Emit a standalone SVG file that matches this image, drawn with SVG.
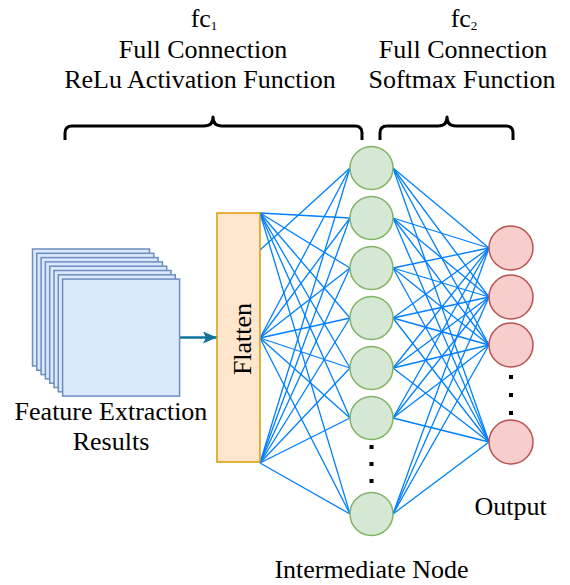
<svg xmlns="http://www.w3.org/2000/svg" width="570" height="585" viewBox="0 0 570 585">
<defs>
<style>
.t{font-family:"Liberation Serif","Times New Roman",serif;font-size:26px;fill:#000;text-anchor:middle}
.sub{font-size:13px}
.fm{fill:#dae8fc;stroke:#6c8ebf;stroke-width:1.5}
.g{fill:#d5e8d4;stroke:#82b366;stroke-width:1.5}
.r{fill:#f8cecc;stroke:#b85450;stroke-width:1.5}
.e line{stroke:#007fff;stroke-width:1.3}
.br{fill:none;stroke:#000;stroke-width:3;stroke-linejoin:round}
.dot{fill:#000}
</style>
<marker id="ah" markerWidth="14" markerHeight="12" refX="14" refY="6" orient="auto" markerUnits="userSpaceOnUse" viewBox="0 0 14 12">
<path d="M0,0 L14,6 L0,12 L3,6 Z" fill="#10739e"/>
</marker>
</defs>
<rect width="570" height="585" fill="#fff"/>

<g id="labels-top">
<text class="t" x="204" y="27">fc<tspan class="sub" dy="3">1</tspan></text>
<text class="t" x="203" y="58">Full Connection</text>
<text class="t" x="200" y="88">ReLu Activation Function</text>
<text class="t" x="464" y="27">fc<tspan class="sub" dy="3">2</tspan></text>
<text class="t" x="463" y="58">Full Connection</text>
<text class="t" x="462" y="88">Softmax Function</text>
</g>

<g id="braces">
<path class="br" d="M65,140 L65,133 Q65,126 72,126 L204,126 Q213,126 213,117 Q213,126 222,126 L355,126 Q362,126 362,133 L362,140"/>
<path class="br" d="M380,140 L380,133 Q380,126 387,126 L438,126 Q447,126 447,117 Q447,126 456,126 L506,126 Q513,126 513,133 L513,140"/>
</g>

<g id="connectors" class="e">
<line x1="179" y1="337.5" x2="217" y2="337.5" style="stroke:#10739e;stroke-width:2.5" marker-end="url(#ah)"/>
<!-- flatten to intermediate -->
<line x1="260" y1="250" x2="350" y2="168"/>
<line x1="260" y1="338" x2="350" y2="168"/>
<line x1="260" y1="463" x2="350" y2="168"/>
<line x1="260" y1="213" x2="350" y2="218"/>
<line x1="260" y1="338" x2="350" y2="218"/>
<line x1="260" y1="463" x2="350" y2="218"/>
<line x1="260" y1="213" x2="350" y2="268"/>
<line x1="260" y1="338" x2="350" y2="268"/>
<line x1="260" y1="463" x2="350" y2="268"/>
<line x1="260" y1="213" x2="350" y2="318"/>
<line x1="260" y1="338" x2="350" y2="318"/>
<line x1="260" y1="463" x2="350" y2="318"/>
<line x1="260" y1="213" x2="350" y2="368"/>
<line x1="260" y1="338" x2="350" y2="368"/>
<line x1="260" y1="463" x2="350" y2="368"/>
<line x1="260" y1="213" x2="350" y2="418"/>
<line x1="260" y1="338" x2="350" y2="418"/>
<line x1="260" y1="463" x2="350" y2="418"/>
<line x1="260" y1="213" x2="350" y2="514"/>
<line x1="260" y1="338" x2="350" y2="514"/>
<line x1="260" y1="463" x2="350" y2="514"/>
<!-- intermediate to output -->
<line x1="393" y1="168" x2="489" y2="248"/><line x1="393" y1="168" x2="489" y2="297"/><line x1="393" y1="168" x2="489" y2="345"/><line x1="393" y1="168" x2="489" y2="442"/>
<line x1="393" y1="218" x2="489" y2="248"/><line x1="393" y1="218" x2="489" y2="297"/><line x1="393" y1="218" x2="489" y2="345"/><line x1="393" y1="218" x2="489" y2="442"/>
<line x1="393" y1="268" x2="489" y2="248"/><line x1="393" y1="268" x2="489" y2="297"/><line x1="393" y1="268" x2="489" y2="345"/><line x1="393" y1="268" x2="489" y2="442"/>
<line x1="393" y1="318" x2="489" y2="248"/><line x1="393" y1="318" x2="489" y2="297"/><line x1="393" y1="318" x2="489" y2="345"/><line x1="393" y1="318" x2="489" y2="442"/>
<line x1="393" y1="368" x2="489" y2="248"/><line x1="393" y1="368" x2="489" y2="297"/><line x1="393" y1="368" x2="489" y2="345"/><line x1="393" y1="368" x2="489" y2="442"/>
<line x1="393" y1="418" x2="489" y2="248"/><line x1="393" y1="418" x2="489" y2="297"/><line x1="393" y1="418" x2="489" y2="345"/><line x1="393" y1="418" x2="489" y2="442"/>
<line x1="393" y1="514" x2="489" y2="248"/><line x1="393" y1="514" x2="489" y2="297"/><line x1="393" y1="514" x2="489" y2="345"/><line x1="393" y1="514" x2="489" y2="442"/>
</g>

<g id="feature-maps">
<rect class="fm" x="32.5" y="249" width="117" height="117"/>
<rect class="fm" x="36.8" y="253.3" width="117" height="117"/>
<rect class="fm" x="41.1" y="257.6" width="117" height="117"/>
<rect class="fm" x="45.4" y="261.9" width="117" height="117"/>
<rect class="fm" x="49.7" y="266.2" width="117" height="117"/>
<rect class="fm" x="54" y="270.5" width="117" height="117"/>
<rect class="fm" x="58.3" y="274.8" width="117" height="117"/>
<rect class="fm" x="62.6" y="279.1" width="117" height="117"/>
<text class="t" x="111" y="420">Feature Extraction</text>
<text class="t" x="111" y="450">Results</text>
</g>

<g id="flatten">
<rect x="217" y="213" width="43" height="249" fill="#ffe6cc" stroke="#d79b00" stroke-width="1.5"/>
<text class="t" x="251" y="339" transform="rotate(-90 251 339)">Flatten</text>
</g>

<g id="intermediate">
<circle class="g" cx="371.5" cy="168" r="21.5"/>
<circle class="g" cx="371.5" cy="218" r="21.5"/>
<circle class="g" cx="371.5" cy="268" r="21.5"/>
<circle class="g" cx="371.5" cy="318" r="21.5"/>
<circle class="g" cx="371.5" cy="368" r="21.5"/>
<circle class="g" cx="371.5" cy="418" r="21.5"/>
<circle class="g" cx="371.5" cy="514" r="21.5"/>
<rect class="dot" x="369.5" y="445" width="4" height="4"/>
<rect class="dot" x="369.5" y="462" width="4" height="4"/>
<rect class="dot" x="369.5" y="479" width="4" height="4"/>
<text class="t" x="371.5" y="578">Intermediate Node</text>
</g>

<g id="output">
<circle class="r" cx="511" cy="248" r="22"/>
<circle class="r" cx="511" cy="297" r="22"/>
<circle class="r" cx="511" cy="345" r="22"/>
<circle class="r" cx="511" cy="442" r="22"/>
<rect class="dot" x="509" y="375" width="4" height="4"/>
<rect class="dot" x="509" y="393" width="4" height="4"/>
<rect class="dot" x="509" y="411" width="4" height="4"/>
<text class="t" x="510.5" y="515">Output</text>
</g>
</svg>
